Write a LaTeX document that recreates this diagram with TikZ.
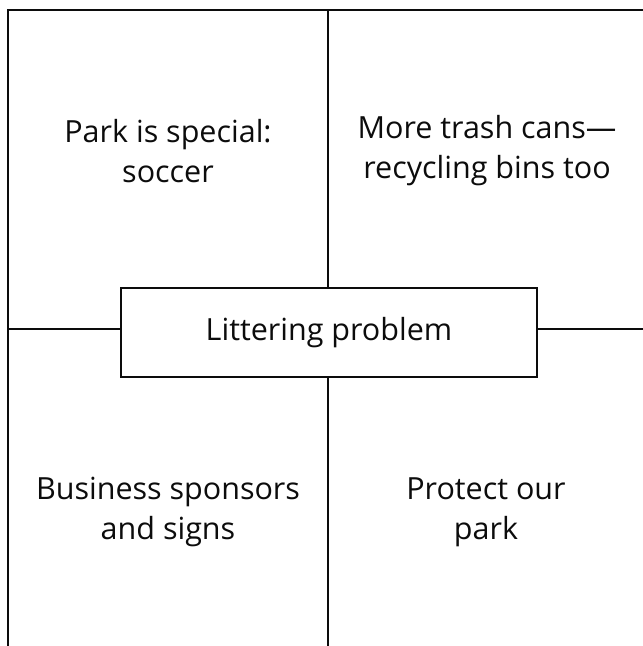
\documentclass[tikz,border=0pt]{standalone}
\usepackage{fontspec}
\setmainfont{Open Sans}
\usetikzlibrary{positioning}
\definecolor{chartInk}{RGB}{12,12,12}
\tikzset{
    base/.style={font=\fontsize{30.5}{40}\selectfont, align=center, text=chartInk},
    topic/.style={base, rectangle, draw=chartInk, line width=2.4pt, fill=white,
                  minimum width=416pt, minimum height=89pt, inner sep=0pt},
    idea/.style={base, inner sep=0pt},
    rule/.style={draw=chartInk, line width=2.4pt}
}

\begin{document}
\begin{tikzpicture}[x=1pt,y=-1pt]
  \useasboundingbox (0,0) rectangle (643,646);

  % Frame points
  \coordinate (tl) at (8,10);
  \coordinate (tr) at (643,10);
  \coordinate (bl) at (8,646);
  \coordinate (tm) at (328,10);
  \coordinate (bm) at (328,646);
  \coordinate (ml) at (8,329);
  \coordinate (mr) at (643,329);

  % Outer frame (open to the right and bottom)
  \draw[rule] (tr) -- (tl) -- (bl);

  % Topic in the middle
  \node[topic] (topic) at (329,332.5) {Littering problem};

  % Dividers
  \draw[rule] (tm) -- (tm |- topic.north);
  \draw[rule] (tm |- topic.south) -- (bm);
  \draw[rule] (ml) -- (ml -| topic.west);
  \draw[rule] (ml -| topic.east) -- (mr);

  % Ideas
  \node[idea] (special) at (168,151) {Park is special:\\soccer};
  \node[idea] (cans) at (487,151) {More trash cans---\\recycling bins too};
  \node[idea] (sponsors) at (168,512) {Business sponsors\\and signs};
  \node[idea] (protect) at (486,512) {Protect our\\park};
\end{tikzpicture}
\end{document}
